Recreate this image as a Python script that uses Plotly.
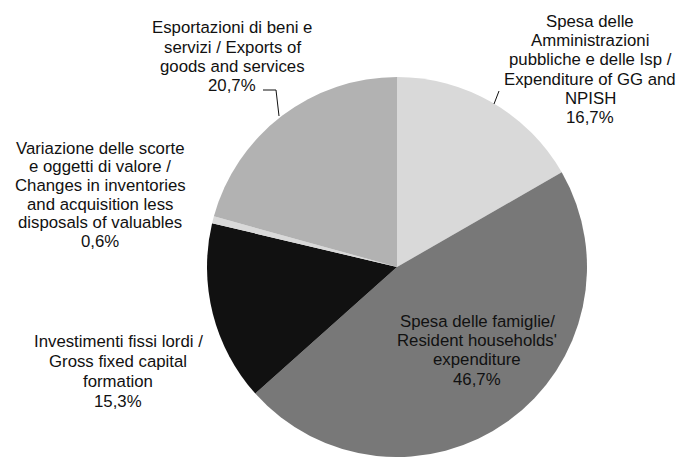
import plotly.graph_objects as go

# page body has an 8px margin, so the figure is 677x449 placed at (8, 8)
OFF = 8
W, H = 685 - OFF, 457 - OFF

label_lines = [
    ["Spesa delle", "Amministrazioni", "pubbliche e delle Isp /", "Expenditure of GG and", "NPISH"],
    ["Spesa delle famiglie/", "Resident households'", "expenditure"],
    ["Investimenti fissi lordi /", "Gross fixed capital", "formation"],
    ["Variazione delle scorte", "e oggetti di valore /", "Changes in inventories",
     "and acquisition less", "disposals of valuables"],
    ["Esportazioni di beni e", "servizi / Exports of", "goods and services"],
]
values = [16.7, 46.7, 15.3, 0.6, 20.7]
colors = ["#D9D9D9", "#787878", "#111111", "#D9D9D9", "#B2B2B2"]

# label block: centre x and y of first line (window pixels), line spacing
label_pos = [(590, 21, 19.4), (477, 321, 19.4), (118, 341, 20), (100, 148, 18.7), (232, 28, 19.3)]

FONT = "Liberation Sans, Arial, sans-serif"

fig = go.Figure(go.Pie(
    values=values,
    labels=[" ".join(l) for l in label_lines],
    marker=dict(colors=colors, line=dict(width=0)),
    sort=False,
    direction="clockwise",
    rotation=0,
    textinfo="none",
    hoverinfo="label+percent",
    showlegend=False,
    domain=dict(x=[(397 - OFF - 190) / W, (397 - OFF + 190) / W], y=[0, 380 / H]),
))

def fmt(v):
    return f"{v:.1f}".replace(".", ",") + "%"

def px2paper(x, y):
    return (x - OFF) / W, 1 - (y - OFF) / H

for lines, v, (cx, y0, dy) in zip(label_lines, values, label_pos):
    for i, t in enumerate(lines + [fmt(v)]):
        ax, ay = px2paper(cx, y0 + i * dy)
        fig.add_annotation(
            x=ax, y=ay, xref="paper", yref="paper",
            xanchor="center", yanchor="middle",
            text=t, showarrow=False,
            font=dict(family=FONT, size=16.8, color="#111111"),
        )

def P(x, y):
    a, b = px2paper(x, y)
    return f"{a},{b}"

# leader lines
fig.add_shape(type="path", xref="paper", yref="paper",
              path=f"M{P(263, 90)} L{P(276, 90)} L{P(279, 116)}",
              line=dict(color="#111111", width=1))
fig.add_shape(type="path", xref="paper", yref="paper",
              path=f"M{P(499, 91)} L{P(494, 104)}",
              line=dict(color="#111111", width=1))

fig.update_layout(
    width=W, height=H,
    margin=dict(l=0, r=0, t=0, b=0),
    paper_bgcolor="white", plot_bgcolor="white",
)
fig.write_html("out.html")
